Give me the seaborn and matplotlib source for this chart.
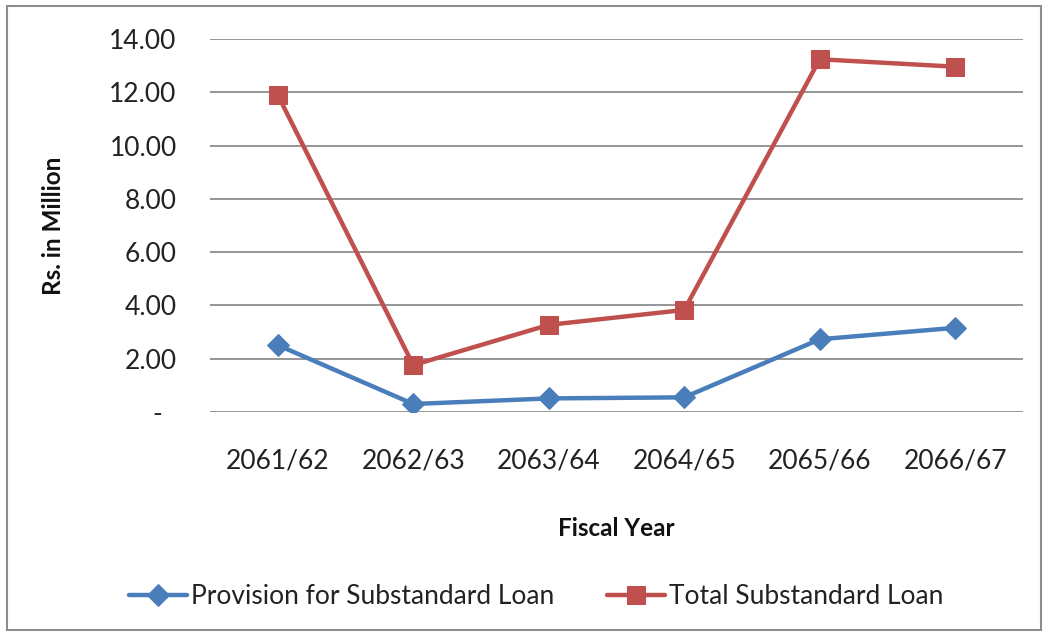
import numpy as np
import matplotlib
matplotlib.use('AGG')
import matplotlib.pyplot as plt
import matplotlib.ticker as mticker
from matplotlib.patches import Rectangle
import seaborn as sns
import pandas as pd

# Chart data (Rs. in Million)
years = ["2061/62", "2062/63", "2063/64", "2064/65", "2065/66", "2066/67"]
provision = [2.51, 0.30, 0.51, 0.55, 2.73, 3.16]
total_loan = [11.90, 1.76, 3.27, 3.83, 13.24, 12.96]

BLUE = "#4A7EBB"
RED = "#C0504D"

sns.set_style("white")
plt.rcParams['font.family'] = ['Lato', 'DejaVu Sans']

fig = plt.figure(figsize=(10.49, 6.37), dpi=100)
ax = fig.add_axes([210/1049, 1-412/637, 813/1049, 373/637])

df = pd.DataFrame({"year": years, "provision": provision, "total": total_loan})
sns.lineplot(data=df, x="year", y="provision", ax=ax, color=BLUE, lw=3.2,
             marker="D", markersize=11, markeredgecolor=BLUE, sort=False,
             label="Provision for Substandard Loan")
sns.lineplot(data=df, x="year", y="total", ax=ax, color=RED, lw=3.2,
             marker="s", markersize=13, markeredgecolor=RED, sort=False,
             label="Total Substandard Loan")

# Axes
ax.set_xlim(-0.5, len(years) - 0.5)
ax.set_ylim(0, 14)
ax.set_yticks(np.arange(0, 15, 2))
# accounting style: zero shown as a dash
ax.yaxis.set_major_formatter(mticker.FuncFormatter(
    lambda v, p: "-  " if v == 0 else "{:.2f}".format(v)))
ax.grid(True, axis='y', color="#8C8C8C", lw=1.3)
ax.grid(False, axis='x')
for s in ax.spines.values():
    s.set_visible(False)
ax.tick_params(axis='y', length=0, pad=24, labelsize=19, colors="#222222")
ax.tick_params(axis='x', length=0, pad=26, labelsize=19, colors="#222222")

ax.set_xlabel("Fiscal Year", fontsize=17.5, fontweight='bold', color="#111111")
ax.set_ylabel("Rs. in Million", fontsize=17.5, fontweight='bold', color="#111111")
ax.xaxis.set_label_coords(0.5, -0.282)
ax.yaxis.set_label_coords(-0.178, 0.5)

# Legend below the plot
ax.get_legend().remove()
handles, labels = ax.get_legend_handles_labels()
fig.legend(handles, labels, loc='center', bbox_to_anchor=(0.511, 1-597/637),
           ncol=2, frameon=False, fontsize=19, handlelength=2.2,
           handletextpad=0.15, columnspacing=2.0, labelcolor="#222222")

# Outer chart border
fig.patches.append(Rectangle((7/1049, 7/637), 1034/1049, 624/637,
                             transform=fig.transFigure, fill=False,
                             edgecolor="#8C8C8C", lw=1.5))

fig.savefig("out.png", dpi=100)
plt.close()
